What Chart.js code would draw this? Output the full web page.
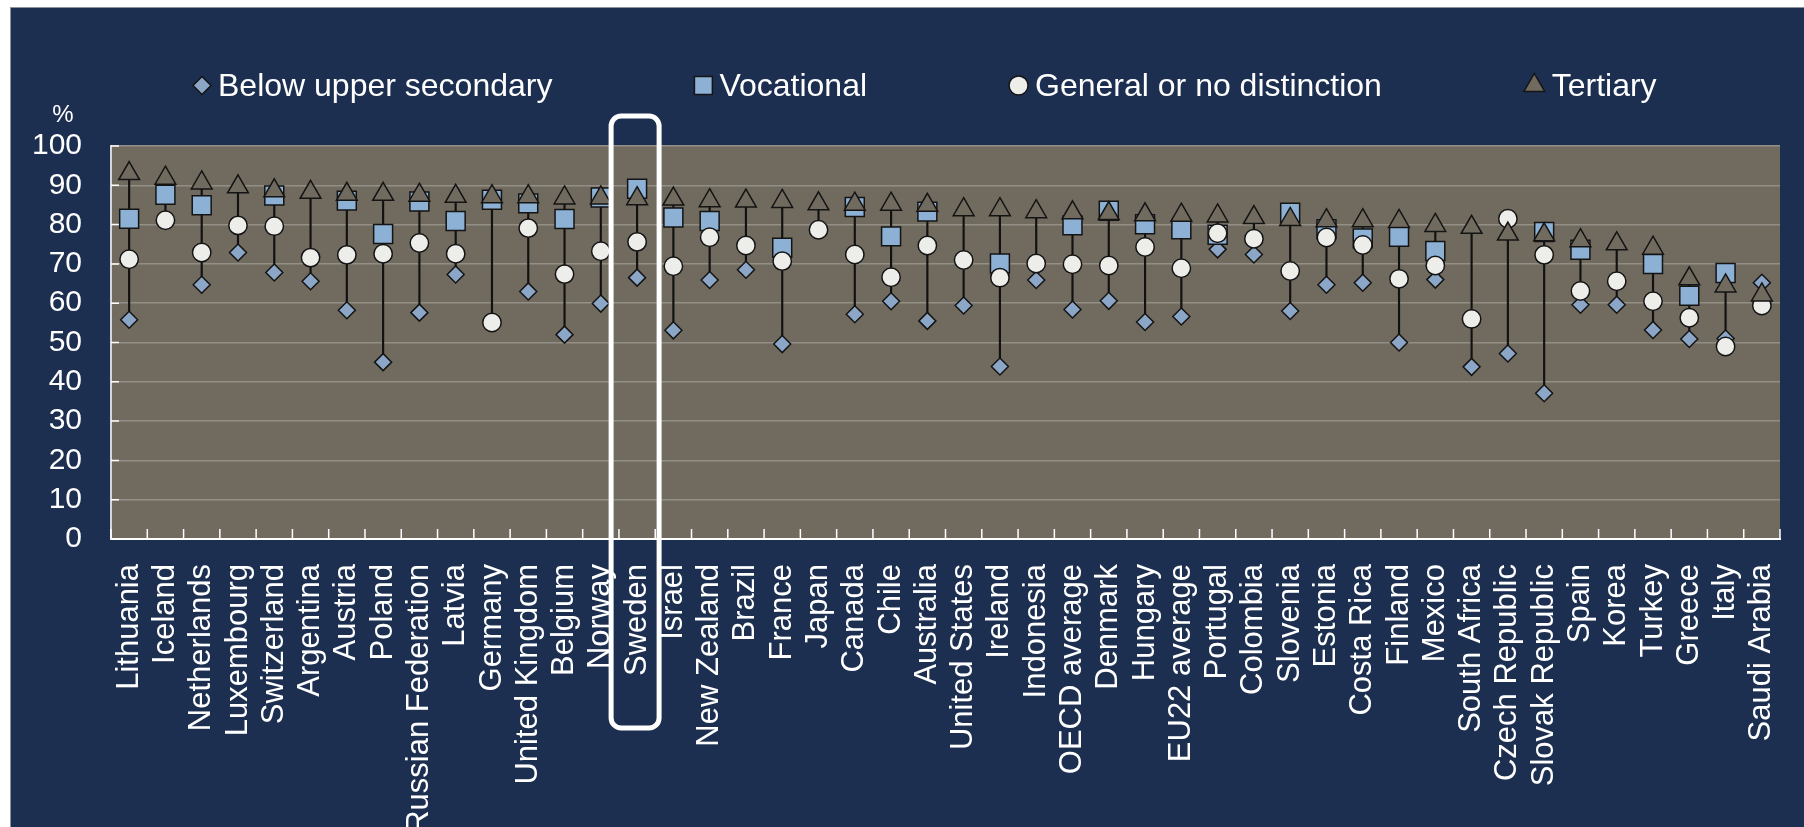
<!DOCTYPE html>
<html>
<head>
<meta charset="utf-8">
<script src="https://cdn.jsdelivr.net/npm/chart.js@4.4.0/dist/chart.umd.min.js"></script>
<style>
  body { margin: 0; background: #ffffff; width: 1804px; height: 827px; overflow: hidden; }
  #wrap {
    position: absolute; left: 10px; top: 7px; width: 1793px; height: 819px;
    border-top: 1px solid #8c939c; border-left: 1px solid #8c939c; background: #1c2f50;
  }
  canvas { display: block; }
</style>
</head>
<body>
<div id="wrap"><canvas id="chart" width="1793" height="819"></canvas></div>
<script>
const categories = [
  "Lithuania", "Iceland", "Netherlands", "Luxembourg", "Switzerland", "Argentina", "Austria", "Poland",
  "Russian Federation", "Latvia", "Germany", "United Kingdom", "Belgium", "Norway", "Sweden", "Israel",
  "New Zealand", "Brazil", "France", "Japan", "Canada", "Chile", "Australia", "United States", "Ireland",
  "Indonesia", "OECD average", "Denmark", "Hungary", "EU22 average", "Portugal", "Colombia", "Slovenia",
  "Estonia", "Costa Rica", "Finland", "Mexico", "South Africa", "Czech Republic", "Slovak Republic",
  "Spain", "Korea", "Turkey", "Greece", "Italy", "Saudi Arabia"
];

const belowUpperSecondary = [
  55.8, null, 64.7, 72.9, 67.8, 65.6, 58.2, 45.0, 57.6, 67.3, null, 63.0, 52.0, 59.9, 66.5, 53.1,
  65.9, 68.5, 49.6, null, 57.2, 60.5, 55.5, 59.4, 43.9, 65.9, 58.4, 60.6, 55.2, 56.6, 73.7, 72.4,
  58.0, 64.7, 65.2, 50.0, 66.0, 43.8, 47.2, 37.1, 59.6, 59.6, 53.2, 50.9, 51.0, 65.2
];
const vocational = [
  81.5, 87.6, 84.9, null, 87.4, null, 86.1, 77.6, 85.9, 80.9, 86.3, 85.4, 81.4, 86.9, 89.1, 81.8,
  80.9, null, 74.1, null, 84.5, 77.0, 83.3, null, 70.1, null, 79.8, 83.5, 80.1, 78.8, 77.4, null,
  83.0, 78.8, 76.5, 76.9, 73.3, null, null, 78.1, 73.6, null, 70.0, 61.9, 67.7, null
];
const generalNoDistinction = [
  71.2, 81.1, 72.9, 79.8, 79.6, 71.6, 72.3, 72.6, 75.3, 72.6, 55.1, 79.1, 67.4, 73.2, 75.6, 69.4,
  76.8, 74.7, 70.7, 78.7, 72.4, 66.6, 74.7, 71.0, 66.5, 70.1, 69.9, 69.6, 74.3, 68.9, 77.8, 76.4,
  68.2, 76.7, 74.8, 66.2, 69.6, 56.0, 81.5, 72.3, 63.1, 65.6, 60.5, 56.3, 49.0, 59.4
];
const tertiary = [
  93.0, 91.8, 90.6, 89.6, 88.6, 88.2, 87.7, 87.7, 87.5, 87.2, 87.1, 87.1, 86.8, 86.8, 86.6, 86.5,
  86.1, 86.0, 85.9, 85.3, 85.2, 85.2, 84.9, 83.8, 83.8, 83.3, 83.0, 82.8, 82.5, 82.4, 82.2, 81.8,
  81.3, 81.0, 81.0, 80.8, 79.8, 79.3, 77.6, 77.4, 75.9, 75.1, 74.0, 66.2, 64.4, 62.1
];

const highlighted = "Sweden";
const FONT = '"Liberation Sans", Arial, sans-serif';
const PLOT_BG = "#716b5f";
const EDGE = "#141414";

// high-low line for every country: lowest to highest of the four series
const ranges = categories.map(function(_, i) {
  const vals = [belowUpperSecondary[i], vocational[i], generalNoDistinction[i], tertiary[i]]
    .filter(function(v) { return v !== null; });
  return [Math.min.apply(null, vals), Math.max.apply(null, vals)];
});

function markerSet(label, data, style, radius, fill, order) {
  return {
    type: "line",
    label: label,
    data: data,
    showLine: false,
    pointStyle: style,
    pointRadius: radius,
    pointHoverRadius: radius,
    pointBackgroundColor: fill,
    pointBorderColor: EDGE,
    pointBorderWidth: 1.5,
    legendRadius: { rectRot: 9, rect: 12.7, circle: 9.5, triangle: 12 }[style],
    order: order
  };
}

function drawMarker(ctx, style, x, y, r) {
  ctx.beginPath();
  if (style === "circle") {
    ctx.arc(x, y, r, 0, Math.PI * 2);
  } else if (style === "rect") {
    const s = r * Math.SQRT1_2;
    ctx.rect(x - s, y - s, 2 * s, 2 * s);
  } else if (style === "rectRot") {
    ctx.moveTo(x - r, y); ctx.lineTo(x, y - r); ctx.lineTo(x + r, y); ctx.lineTo(x, y + r);
  } else if (style === "triangle") {
    ctx.moveTo(x, y - r);
    ctx.lineTo(x + r * 0.866, y + r / 2);
    ctx.lineTo(x - r * 0.866, y + r / 2);
  }
  ctx.closePath();
  ctx.fill();
  ctx.stroke();
}

function halfWidth(style, r) {
  if (style === "rect") return r * Math.SQRT1_2;
  if (style === "triangle") return r * 0.866;
  return r;
}

const decorations = {
  id: "decorations",
  beforeDraw: function(chart) {
    const ctx = chart.ctx, a = chart.chartArea;
    ctx.save();
    ctx.fillStyle = "#1c2f50";
    ctx.fillRect(0, 0, chart.width, chart.height);
    ctx.fillStyle = PLOT_BG;
    ctx.fillRect(a.left, a.top, a.right - a.left, a.bottom - a.top);
    ctx.restore();
  },
  beforeDatasetsDraw: function(chart) {
    const ctx = chart.ctx, a = chart.chartArea, xs = chart.scales.x, ys = chart.scales.y;
    ctx.save();
    ctx.strokeStyle = "#ffffff";
    ctx.lineWidth = 1.5;
    ctx.beginPath();
    for (let v = 10; v <= 100; v += 10) {
      const y = ys.getPixelForValue(v);
      ctx.moveTo(a.left, y); ctx.lineTo(a.left + 8, y);
    }
    const n = categories.length;
    for (let i = 0; i <= n; i++) {
      let x;
      if (i === 0) x = a.left;
      else if (i === n) x = a.right;
      else x = (xs.getPixelForValue(i - 1) + xs.getPixelForValue(i)) / 2;
      ctx.moveTo(x, a.bottom); ctx.lineTo(x, a.bottom - 10);
    }
    ctx.stroke();
    ctx.restore();
  },
  afterDraw: function(chart) {
    const ctx = chart.ctx, a = chart.chartArea, xs = chart.scales.x;
    ctx.save();

    // unit label
    ctx.fillStyle = "#ffffff";
    ctx.font = "24px " + FONT;
    ctx.textAlign = "center";
    ctx.textBaseline = "middle";
    ctx.fillText("%", 52, 107);

    // legend
    ctx.font = "32px " + FONT;
    ctx.textAlign = "left";
    ctx.textBaseline = "alphabetic";
    ctx.lineWidth = 1.5;
    ctx.strokeStyle = EDGE;
    let x = 182;
    chart.data.datasets.forEach(function(ds) {
      if (!ds.legendRadius) return;
      const hw = halfWidth(ds.pointStyle, ds.legendRadius);
      ctx.fillStyle = ds.pointBackgroundColor;
      drawMarker(ctx, ds.pointStyle, x + hw, 77.5, ds.legendRadius);
      const tx = x + 2 * hw + 7;
      ctx.fillStyle = "#ffffff";
      ctx.fillText(ds.label, tx, 88);
      x = tx + ctx.measureText(ds.label).width + 142;
    });

    // highlight box
    const cx = xs.getPixelForValue(categories.indexOf(highlighted)) - 2;
    ctx.strokeStyle = "#ffffff";
    ctx.lineWidth = 5;
    ctx.beginPath();
    ctx.roundRect(cx - 24, a.top - 30, 48, chart.height - 99 - (a.top - 30), 10);
    ctx.stroke();
    ctx.restore();
  }
};

Chart.defaults.font.family = FONT;

new Chart(document.getElementById("chart"), {
  type: "line",
  data: {
    labels: categories,
    datasets: [
      markerSet("Below upper secondary", belowUpperSecondary, "rectRot", 8.5, "#8ba6c6", 4),
      markerSet("Vocational", vocational, "rect", 13.4, "#8db0d5", 3),
      markerSet("General or no distinction", generalNoDistinction, "circle", 9.2, "#ededea", 2),
      markerSet("Tertiary", tertiary, "triangle", 12, PLOT_BG, 1),
      {
        type: "bar",
        label: "range",
        data: ranges,
        backgroundColor: "#111111",
        barThickness: 1.5,
        order: 10
      }
    ]
  },
  options: {
    responsive: false,
    animation: false,
    events: [],
    layout: { padding: { top: 138, right: 24, left: 0, bottom: 0 } },
    plugins: {
      legend: { display: false },
      tooltip: { enabled: false }
    },
    scales: {
      x: {
        type: "category",
        offset: true,
        grid: { display: false, offset: true },
        border: { color: "#ffffff", width: 2 },
        ticks: {
          color: "#ffffff",
          font: { size: 31 },
          padding: 17,
          minRotation: 90,
          maxRotation: 90,
          autoSkip: false
        },
        afterFit: function(s) {
          s.height = 288;
          s.paddingLeft = 0;
          s.paddingRight = 0;
        }
      },
      y: {
        min: 0,
        max: 100,
        grid: { color: "#948f86", lineWidth: 1.5, drawTicks: false },
        border: { color: "#d6d6d6", width: 2 },
        ticks: {
          stepSize: 10,
          color: "#ffffff",
          font: { size: 30 },
          padding: 29
        },
        afterFit: function(s) { s.width = 100; }
      }
    }
  },
  plugins: [decorations]
});
</script>
</body>
</html>
